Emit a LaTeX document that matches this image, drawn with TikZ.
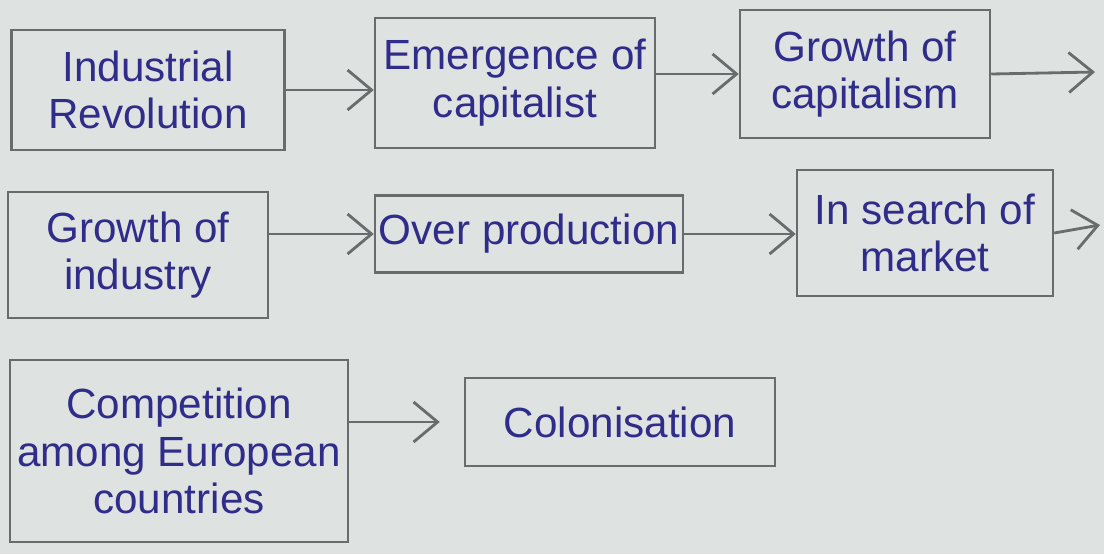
\documentclass[tikz,border=0pt]{standalone}
\usepackage{fontspec}
\setmainfont{Liberation Sans}
\usetikzlibrary{arrows.meta,calc}
\definecolor{paper}{RGB}{222,226,225}
\definecolor{pencil}{RGB}{105,108,108}
\definecolor{ink}{RGB}{48,44,138}
\tikzset{
  box/.style={draw=pencil, line width=1.7pt, inner sep=0pt, align=center,
    text=ink, font=\fontsize{30}{34}\selectfont},
  flow/.style={draw=pencil, line width=2pt,
    -{Straight Barb[length=0.6cm,width=1.0cm,line width=2pt]}}
}
\begin{document}
\begin{tikzpicture}[x=0.025cm,y=-0.025cm]
\fill[paper] (0,0) rectangle (1104,554);
\useasboundingbox (0,0) rectangle (1104,554);
% row 1
\node[box, minimum width=6.825cm, minimum height=3.0cm] (b1) at (148,90) {Industrial\\Revolution};
\node[box, minimum width=7.0cm, minimum height=3.25cm] (b2) at (515,83) {Emergence of\\capitalist};
\node[box, minimum width=6.25cm, minimum height=3.2cm] (b3) at (865,74) {Growth of\\capitalism};
\coordinate (e1) at (1095,72);
% row 2
\node[box, minimum width=6.5cm, minimum height=3.15cm] (b4) at (138,255) {Growth of\\industry};
\node[box, minimum width=7.7cm, minimum height=1.925cm] (b5) at (529,234) {Over production};
\node[box, minimum width=6.4cm, minimum height=3.15cm] (b6) at (925,233) {In search of\\market};
\coordinate (e2) at (1100,225);
% row 3
\node[box, minimum width=8.45cm, minimum height=4.55cm] (b7) at (179,451) {Competition\\among European\\countries};
\node[box, minimum width=7.75cm, minimum height=2.2cm] (b8) at (620,422) {Colonisation};
% connectors
\draw[flow] (b1.east) -- (b1.east -| b2.west);
\draw[flow] (b3.west -| b2.east) -- (b3.west);
\draw[flow] (b3.east) -- (e1);
\draw[flow] (b5.west -| b4.east) -- (b5.west);
\draw[flow] (b5.east) -- (b5.east -| b6.west);
\draw[flow] (b6.east) -- (e2);
\draw[flow, shorten >=0.6cm] (b8.west -| b7.east) -- (b8.west);
\end{tikzpicture}
\end{document}
